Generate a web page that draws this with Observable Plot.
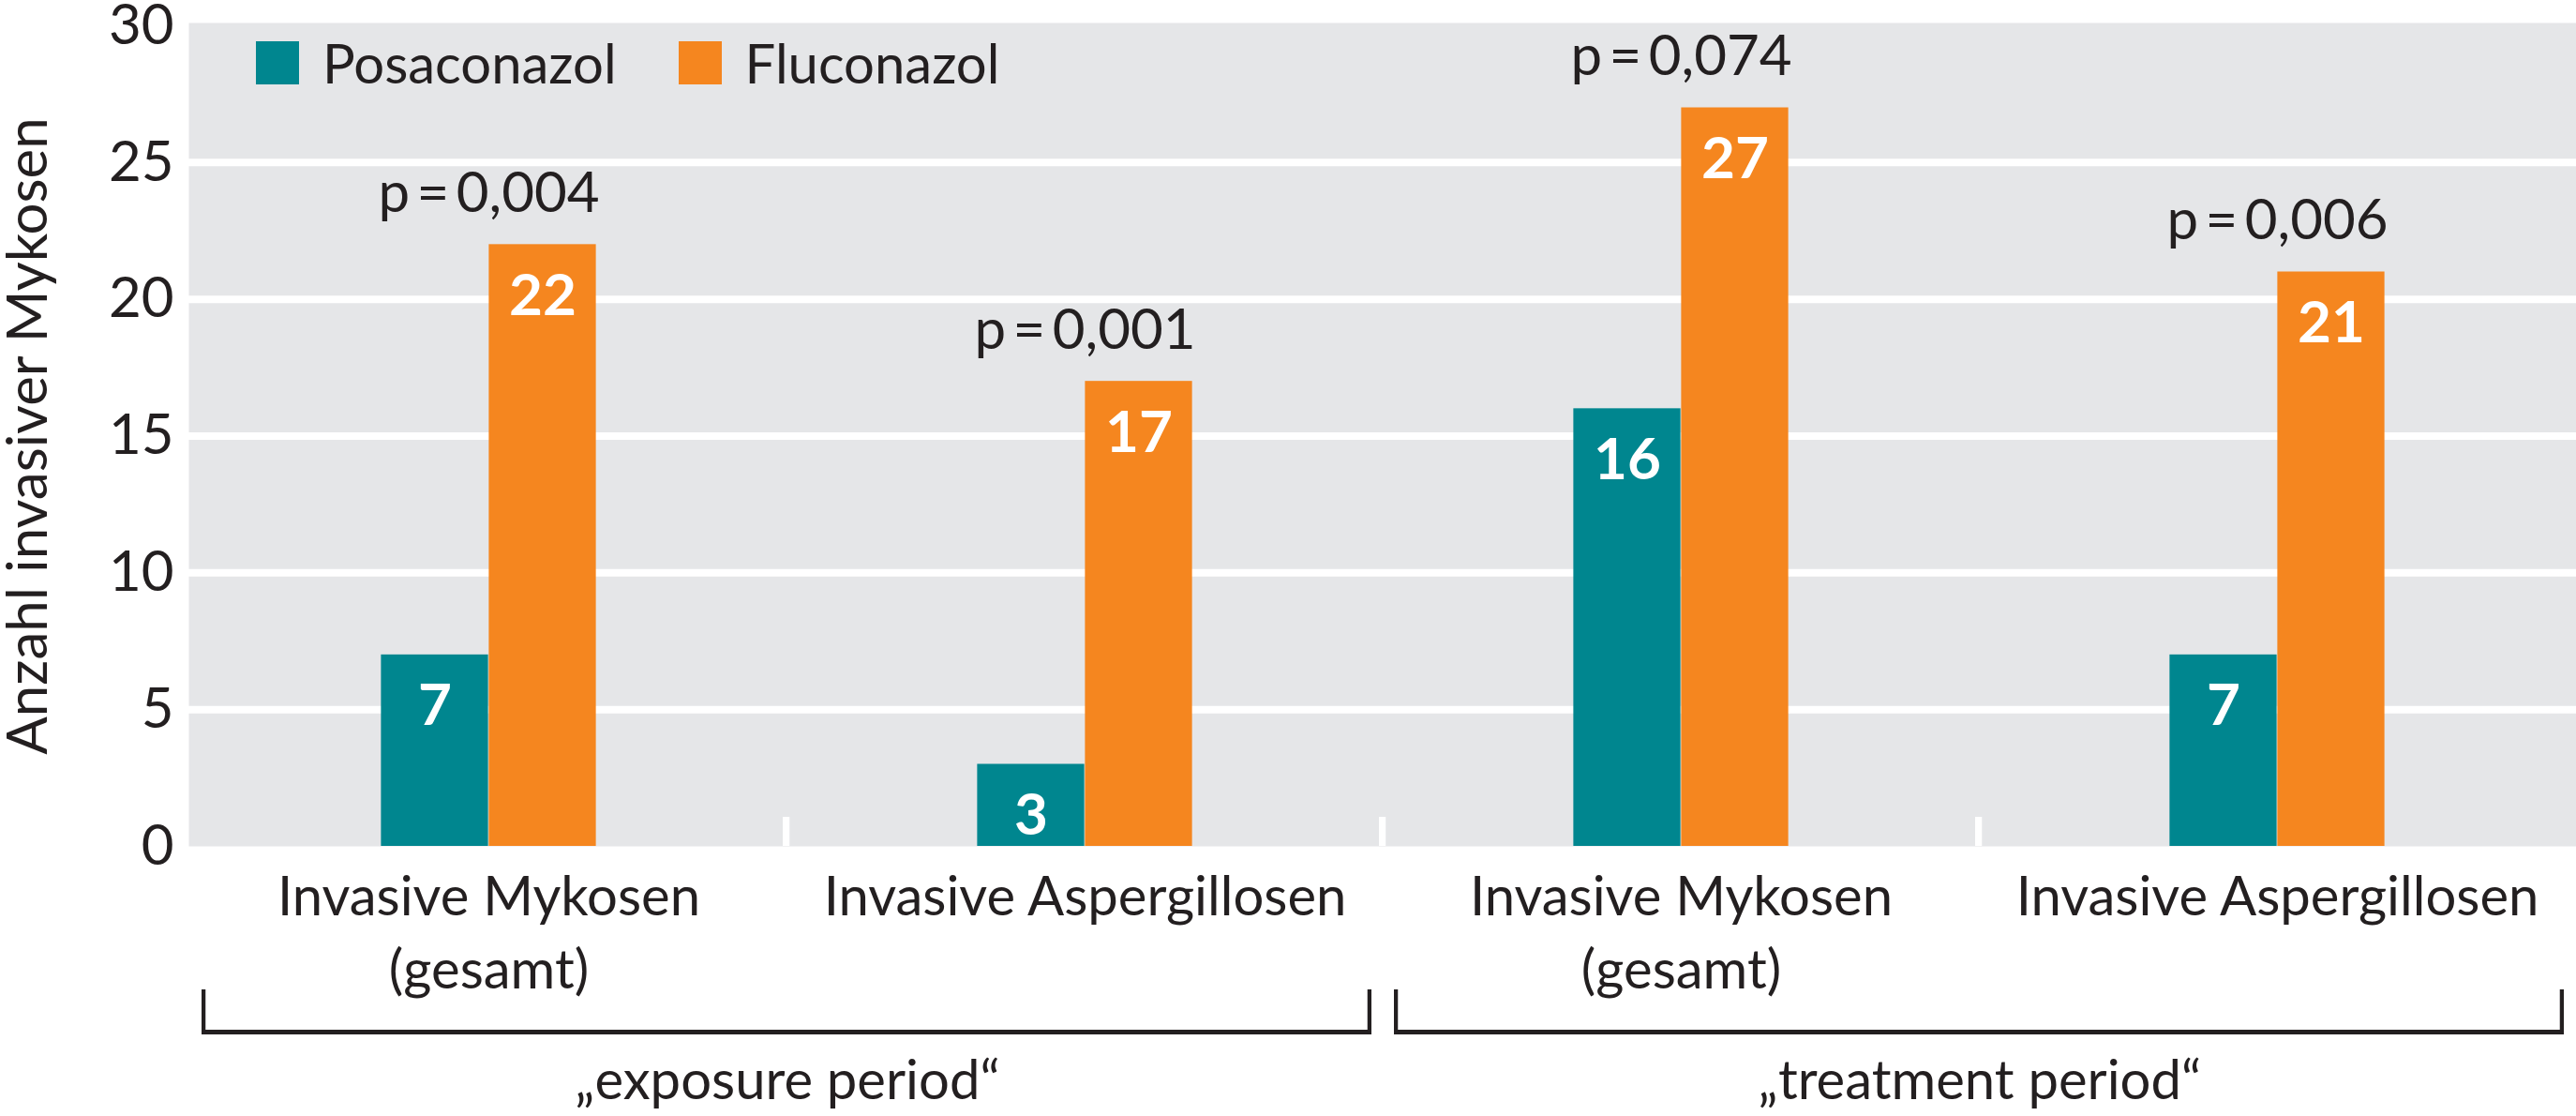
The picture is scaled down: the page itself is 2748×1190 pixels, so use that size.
<!DOCTYPE html>
<html>
<head>
<meta charset="utf-8">
<script src="https://cdn.jsdelivr.net/npm/d3@7"></script>
<script src="https://cdn.jsdelivr.net/npm/@observablehq/plot@0.6"></script>
<style>
  html, body { margin: 0; padding: 0; background: #ffffff; }
  #wrap { position: relative; width: 2748px; height: 1190px; font-family: Lato, "Noto Sans", sans-serif; }
  #legend { position: absolute; left: 273px; top: 32px; }
  .lg-swatches { font-family: Lato, "Noto Sans", sans-serif; font-size: 58px; color: #231f20; margin: 0; }
  .lg-swatch > svg { margin-right: 25px; }
  .lg-swatch { margin-right: 66px; }
</style>
</head>
<body>
<div id="wrap"><div id="legend"></div></div>
<script>
// ---- data ----
const categories = ["exp-myk", "exp-asp", "trt-myk", "trt-asp"];
const categoryLabels = ["Invasive Mykosen\n(gesamt)", "Invasive Aspergillosen", "Invasive Mykosen\n(gesamt)", "Invasive Aspergillosen"];
const series = ["Posaconazol", "Fluconazol"];
const posaconazol = [7, 3, 16, 7];
const fluconazol = [22, 17, 27, 21];
const pValues = ["p\u2009=\u20090,004", "p\u2009=\u20090,001", "p\u2009=\u20090,074", "p\u2009=\u20090,006"];
const periods = ["\u201Eexposure period\u201C", "\u201Etreatment period\u201C"];
const periodStart = ["exp-myk", "trt-myk"];
const periodEnd = ["exp-asp", "trt-asp"];
const yTicks = [0, 5, 10, 15, 20, 25, 30];
const seriesColors = ["#00868f", "#f5861f"];

// ---- tables built from the arrays ----
const rows = categories.flatMap((c, i) => [
  {cat: c, series: series[0], value: posaconazol[i]},
  {cat: c, series: series[1], value: fluconazol[i]}
]);
const pRows = categories.map((c, i) => ({cat: c, p: pValues[i], top: Math.max(posaconazol[i], fluconazol[i])}));
const periodRows = periods.map((label, i) => ({label, start: periodStart[i], end: periodEnd[i]}));

// ---- layout ----
const W = 2748, H = 1190, ML = 201, MR = 0, MT = 27, MB = 288;
const bw = (W - ML - MR) / categories.length;
const barW = 115;
const ink = "#231f20";

const plot = Plot.plot({
  width: W, height: H,
  marginLeft: ML, marginRight: MR, marginTop: MT, marginBottom: MB,
  style: {fontFamily: "Lato, 'Noto Sans', sans-serif", fontSize: "58px", color: ink, background: "transparent", overflow: "visible"},
  x: {domain: categories, padding: 0, axis: null},
  y: {domain: [0, 30], axis: null},
  color: {domain: series, range: seriesColors},
  marks: [
    Plot.frame({fill: "#e5e6e8", insetTop: -3}),
    Plot.ruleY(yTicks.filter(t => t > 0 && t < 30), {stroke: "#ffffff", strokeWidth: 8}),
    // separators between categories
    Plot.barY(categories.slice(1), {x: d => d, y1: 0, y2: 0, insetTop: -31, insetBottom: 0, insetLeft: -4, insetRight: bw - 4, fill: "#ffffff"}),
    // bars
    Plot.barY(rows, {filter: d => d.series === series[0], x: "cat", y: "value", fill: "series", insetLeft: bw / 2 - barW, insetRight: bw / 2}),
    Plot.barY(rows, {filter: d => d.series === series[1], x: "cat", y: "value", fill: "series", insetLeft: bw / 2, insetRight: bw / 2 - barW}),
    // value labels
    Plot.text(rows, {filter: d => d.series === series[0], x: "cat", y: "value", text: d => String(d.value), dx: -barW / 2, dy: 55, lineAnchor: "middle", fill: "#ffffff", fontSize: 62, fontWeight: 700}),
    Plot.text(rows, {filter: d => d.series === series[1], x: "cat", y: "value", text: d => String(d.value), dx: barW / 2, dy: 55, lineAnchor: "middle", fill: "#ffffff", fontSize: 62, fontWeight: 700}),
    // p values
    Plot.text(pRows, {x: "cat", y: "top", text: "p", dy: -54, lineAnchor: "middle", fill: ink, fontSize: 60}),
    // axes
    Plot.axisY({ticks: yTicks, tickSize: 0, tickPadding: 16, fontSize: 60, label: "Anzahl invasiver Mykosen", labelAnchor: "center", labelArrow: "none", labelOffset: 194}),
    Plot.axisX({tickSize: 0, tickPadding: 17, tickFormat: d => categoryLabels[categories.indexOf(d)], fontSize: 58, lineHeight: 1.36, label: null}),
    // period brackets
    Plot.barY(periodRows, {x: "start", y1: 0, y2: 0, insetTop: 196, insetBottom: -201, insetLeft: 12, insetRight: 0, fill: ink}),
    Plot.barY(periodRows, {x: "end", y1: 0, y2: 0, insetTop: 196, insetBottom: -201, insetLeft: 0, insetRight: 12, fill: ink}),
    Plot.barY(periodRows, {x: "start", y1: 0, y2: 0, insetTop: 153, insetBottom: -201, insetLeft: 12, insetRight: bw - 17, fill: ink}),
    Plot.barY(periodRows, {x: "end", y1: 0, y2: 0, insetTop: 153, insetBottom: -201, insetLeft: bw - 17, insetRight: 12, fill: ink}),
    Plot.text(periodRows, {x: "start", y: 0, text: "label", dx: bw / 2, dy: 251, lineAnchor: "middle", fill: ink, fontSize: 58})
  ]
});

document.getElementById("wrap").insertBefore(plot, document.getElementById("legend"));
const legend = plot.legend("color", {className: "lg", swatchSize: 46});
document.getElementById("legend").appendChild(legend);
</script>
</body>
</html>
